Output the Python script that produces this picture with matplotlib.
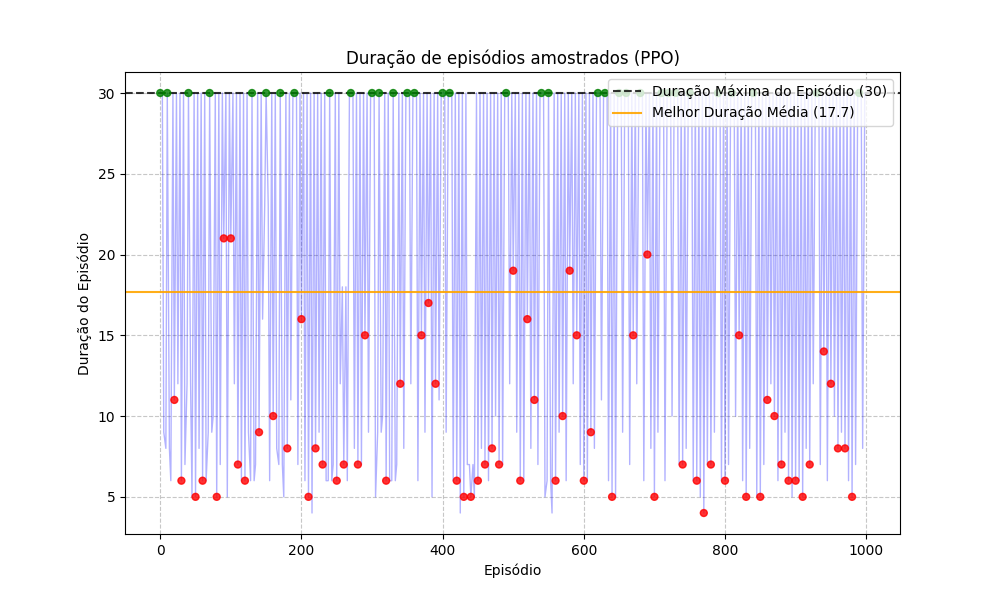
import matplotlib
matplotlib.use("Agg")
import matplotlib.pyplot as plt
import numpy as np

# Sampled episodes (every 10) and their durations
SAMPLE_EP = list(range(0, 1000, 10))
SAMPLE_DUR = [
    30, 30, 11, 6, 30, 5, 6, 30, 5, 21,
    21, 7, 6, 30, 9, 30, 10, 30, 8, 30,
    16, 5, 8, 7, 30, 6, 7, 30, 7, 15,
    30, 30, 6, 30, 12, 30, 30, 15, 17, 12,
    30, 30, 6, 5, 5, 6, 7, 8, 7, 30,
    19, 6, 16, 11, 30, 30, 6, 10, 19, 15,
    6, 9, 30, 30, 5, 30, 30, 15, 30, 20,
    5, 30, 30, 30, 7, 30, 6, 4, 7, 30,
    6, 30, 15, 5, 30, 5, 11, 10, 7, 6,
    6, 5, 7, 30, 14, 12, 8, 8, 5, 30,
]
# Estimated in-between durations (episodes 5, 15, 25, ...)
MID_DUR = [
    30, 8, 30, 30, 12, 30, 30, 9, 30, 30,
    30, 30, 30, 6, 30, 23, 30, 7, 30, 30,
    30, 30, 30, 30, 6, 30, 18, 30, 30, 30,
    30, 9, 30, 6, 30, 30, 30, 30, 30, 30,
    30, 30, 30, 30, 7, 30, 30, 30, 30, 30,
    30, 30, 30, 30, 30, 6, 30, 30, 30, 30,
    30, 30, 30, 30, 30, 30, 30, 30, 30, 30,
    30, 30, 30, 30, 30, 30, 30, 30, 30, 30,
    30, 30, 30, 30, 30, 30, 30, 30, 30, 30,
    30, 30, 30, 30, 30, 30, 30, 30, 30, 30,
]
# alternate some in-between lows to mimic the oscillating trace
LOW_DUR = [
    9, 6, 12, 7, 5, 8, 6, 10, 7, 5,
    12, 6, 9, 7, 16, 6, 8, 5, 11, 7,
    6, 4, 9, 6, 7, 12, 6, 8, 7, 9,
    5, 10, 6, 7, 8, 12, 6, 9, 5, 11,
    9, 6, 4, 7, 5, 8, 6, 10, 7, 12,
    9, 6, 8, 7, 5, 4, 9, 6, 12, 7,
    6, 8, 11, 6, 5, 9, 7, 12, 6, 8,
    9, 6, 10, 7, 8, 6, 5, 7, 9, 6,
    7, 10, 6, 8, 5, 7, 12, 6, 9, 5,
    6, 8, 12, 7, 6, 10, 9, 6, 7, 8,
]

MAX_DUR = 30
BEST_MEAN = 17.7

ep, dur = [], []
for i, e in enumerate(SAMPLE_EP):
    ep += [e, e + 3, e + 5, e + 8]
    dur += [SAMPLE_DUR[i], MID_DUR[i], LOW_DUR[i], MID_DUR[(i + 1) % 100]]

fig, ax = plt.subplots(figsize=(10, 6), dpi=100)
ax.plot(ep, dur, color="blue", alpha=0.3, linewidth=1)
ax.axhline(MAX_DUR, color="black", linestyle="--", alpha=0.8,
           label=f"Duração Máxima do Episódio ({MAX_DUR})")
ax.axhline(BEST_MEAN, color="orange", alpha=0.9,
           label=f"Melhor Duração Média ({BEST_MEAN})")
colors = ["green" if d >= MAX_DUR else "red" for d in SAMPLE_DUR]
ax.scatter(SAMPLE_EP, SAMPLE_DUR, c=colors, s=25, alpha=0.8, zorder=3)

ax.set_title("Duração de episódios amostrados (PPO)")
ax.set_xlabel("Episódio")
ax.set_ylabel("Duração do Episódio")
ax.grid(True, linestyle="--", alpha=0.7)
ax.legend(loc="upper right")

fig.savefig("out.png")
